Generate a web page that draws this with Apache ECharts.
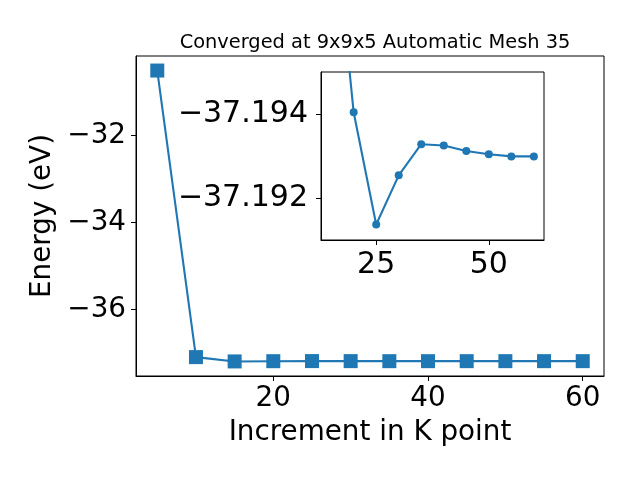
<!DOCTYPE html>
<html><head><meta charset="utf-8">
<script src="https://cdn.jsdelivr.net/npm/echarts@6/dist/echarts.min.js"></script>
<style>html,body{margin:0;padding:0;background:#fff}#c{width:640px;height:480px}</style>
</head><body><div id="c"></div>
<script>
const kpoints = [5, 10, 15, 20, 25, 30, 35, 40, 45, 50, 55, 60];
const energy = [-30.5, -37.10, -37.1994, -37.19404, -37.19137, -37.19254, -37.19328, -37.19325, -37.19312, -37.19304, -37.19299, -37.19299];
const insetStart = 2; // inset plots from k = 15 onward
const mainXTicks = [20, 40, 60];
const mainYTicks = [-36, -34, -32];
const insetXTicks = [25, 50];
const insetYTicks = [-37.194, -37.192];
const titleText = 'Converged at 9x9x5 Automatic Mesh 35';
const xName = 'Increment in K point';
const yName = 'Energy (eV)';

const pts = kpoints.map((k, i) => [k, energy[i]]);
const insetPts = pts.slice(insetStart);
const F = 'DejaVu Sans';
const minus = v => String(v).replace('-', '\u2212');
const axisCommon = {
  axisLine: {show: true, onZero: false, lineStyle: {color: '#000', width: 1}},
  axisTick: {show: true, inside: false, length: 5, lineStyle: {color: '#000', width: 1}},
  splitLine: {show: false}
};
const chart = echarts.init(document.getElementById('c'), null, {renderer: 'canvas'});
chart.setOption({
  animation: false,
  backgroundColor: '#fff',
  title: {text: titleText, left: 370, top: 28, textAlign: 'center',
    textStyle: {fontFamily: F, fontSize: 19.4, fontWeight: 'normal', color: '#000'}},
  grid: [
    {left: 136, right: 36, top: 56, bottom: 104, show: true, borderColor: '#000', borderWidth: 1, backgroundColor: 'transparent'},
    {left: 321, top: 72, width: 223, height: 168, show: true, borderColor: '#000', borderWidth: 1, backgroundColor: '#fff'}
  ],
  xAxis: [
    Object.assign({}, axisCommon, {type: 'value', gridIndex: 0, min: 2.25, max: 62.75,
      name: xName, nameLocation: 'middle', nameGap: 43,
      nameTextStyle: {fontFamily: F, fontSize: 27.8, color: '#000'},
      axisTick: Object.assign({}, axisCommon.axisTick, {customValues: mainXTicks}),
      axisLabel: {customValues: mainXTicks, fontFamily: F, fontSize: 27.8, color: '#000', margin: 9, formatter: minus}}),
    Object.assign({}, axisCommon, {type: 'value', gridIndex: 1, min: 12.75, max: 62.25,
      axisTick: Object.assign({}, axisCommon.axisTick, {customValues: insetXTicks}),
      axisLabel: {customValues: insetXTicks, fontFamily: F, fontSize: 30, color: '#000', margin: 10, formatter: minus}})
  ],
  yAxis: [
    Object.assign({}, axisCommon, {type: 'value', gridIndex: 0, min: -37.535, max: -30.165,
      name: yName, nameLocation: 'middle', nameGap: 75, nameRotate: 90,
      nameTextStyle: {fontFamily: F, fontSize: 27.8, color: '#000'},
      axisTick: Object.assign({}, axisCommon.axisTick, {customValues: mainYTicks}),
      axisLabel: {customValues: mainYTicks, fontFamily: F, fontSize: 27.8, color: '#000', margin: 10, formatter: minus}}),
    Object.assign({}, axisCommon, {type: 'value', gridIndex: 1, min: -37.195, max: -37.191, inverse: true,
      axisTick: Object.assign({}, axisCommon.axisTick, {customValues: insetYTicks}),
      axisLabel: {customValues: insetYTicks, fontFamily: F, fontSize: 30, color: '#000', margin: 13,
        formatter: v => minus(v.toFixed(3))}})
  ],
  series: [
    {type: 'line', xAxisIndex: 0, yAxisIndex: 0, data: pts, symbol: 'rect', symbolSize: 14,
      lineStyle: {color: '#1f77b4', width: 2.1}, itemStyle: {color: '#1f77b4'}, z: 2},
    {type: 'line', xAxisIndex: 1, yAxisIndex: 1, data: insetPts, symbol: 'circle', symbolSize: 8, clip: true,
      showAllSymbol: true,
      lineStyle: {color: '#1f77b4', width: 2.1}, itemStyle: {color: '#1f77b4'}, z: 5}
  ]
});
</script></body></html>
